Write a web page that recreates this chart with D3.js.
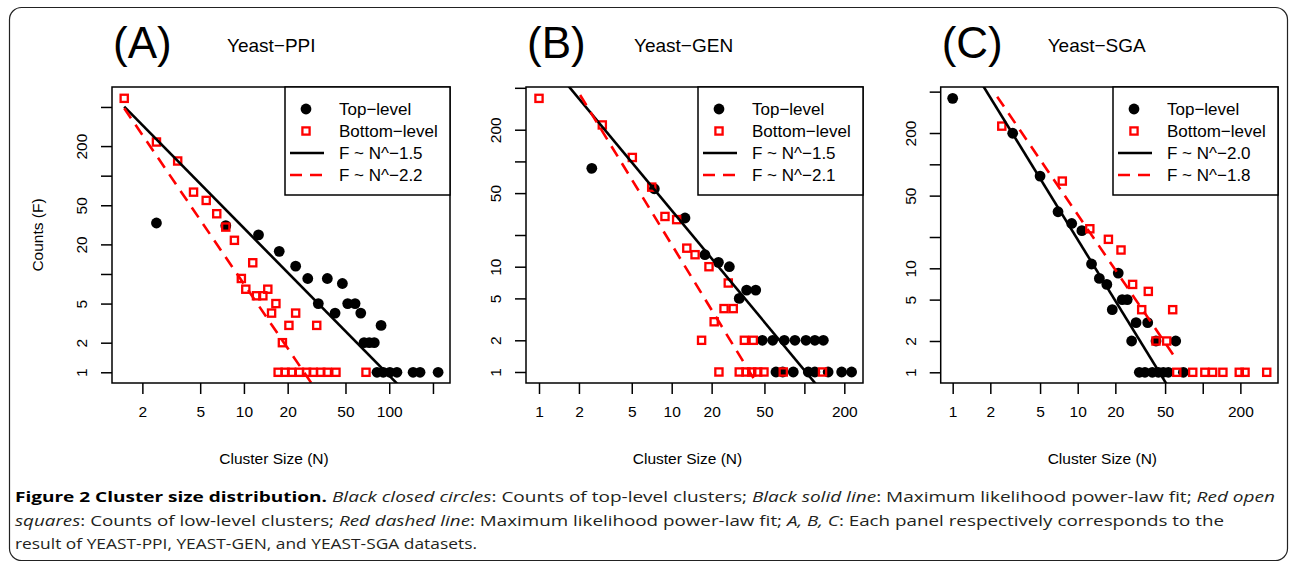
<!DOCTYPE html>
<html>
<head>
<meta charset="utf-8">
<script src="https://cdn.jsdelivr.net/npm/d3@7"></script>
<style>
  body { margin: 0; background: #fff; }
  svg { display: block; }
</style>
</head>
<body>
<div id="chart"></div>
<script>
// (A) Yeast-PPI
const ppiTopN = [2.5, 7.5, 12.6, 17.5, 22.7, 27.5, 37.5, 47.6, 32.5, 51.8, 58.2, 42.4, 63.7, 87.9, 67.1, 72.9, 78.9, 82.4, 91, 101, 113, 146, 163, 217]
const ppiTopF = [33, 31, 25, 17, 12, 9, 9, 8, 5, 5, 5, 4, 4, 3, 2, 2, 2, 1, 1, 1, 1, 1, 1, 1]
const ppiBotN = [1.5, 2.5, 3.5, 4.5, 5.5, 6.5, 7.5, 8.6, 11.5, 9.6, 10.3, 12.2, 13.5, 14.6, 16.6, 15.5, 22.7, 20.4, 31.7, 18.4, 17.2, 19.2, 21.3, 24.1, 27.0, 30.0, 33.8, 37.5, 43.0, 69.2]
const ppiBotF = [612, 220, 141, 68, 56, 41, 30, 22, 13, 9, 7, 6, 6, 7, 5, 4, 4, 3, 3, 2, 1, 1, 1, 1, 1, 1, 1, 1, 1, 1]
const ppiFitTop = [[1.5, 504], [115, 0.75]]
const ppiFitBot = [[1.5, 485], [29.6, 0.75]]

// (B) Yeast-GEN
const genTopN = [2.5, 7.4, 12.6, 17.8, 22.5, 27.2, 36.7, 43.0, 32.3, 48.2, 57.7, 70.6, 84.9, 102.8, 120, 139, 61.1, 68.7, 82.5, 107, 120, 151, 191, 227]
const genTopF = [86, 55, 29, 13, 11, 10, 6, 6, 5, 2, 2, 2, 2, 2, 2, 2, 1, 1, 1, 1, 1, 1, 1, 1]
const genBotN = [1, 3.0, 5.05, 7.07, 8.9, 10.9, 13.0, 15.0, 19.1, 26.7, 24.8, 29.1, 20.9, 16.8, 35.3, 41.2, 22.7, 32.3, 36.3, 40.1, 44.5, 49.6, 69.3, 137]
const genBotF = [397, 222, 109, 57, 30, 28, 15, 13, 10, 7, 4, 4, 3, 2, 2, 2, 1, 1, 1, 1, 1, 1, 1, 1]
const genFitTop = [[1, 1129], [124, 0.75]]
const genFitBot = [[2.04, 427], [44.5, 0.75]]

// (C) Yeast-SGA
const sgaTopN = [1, 3.02, 5.0, 6.96, 8.95, 10.8, 12.9, 14.9, 17.1, 21.1, 22.7, 24.9, 18.9, 29.3, 36.3, 27.0, 42.3, 60.8, 31.1, 34.5, 39.5, 44.2, 48.4, 53.1, 70]
const sgaTopF = [431, 199, 77, 35, 27, 23, 11, 8, 7, 9, 5, 5, 4, 3, 3, 2, 2, 2, 1, 1, 1, 1, 1, 1, 1]
const sgaBotN = [2.47, 7.53, 12.5, 17.6, 22.2, 27.5, 36.7, 32.5, 57.5, 42.3, 51.5, 62, 83.2, 104, 120, 145, 196, 218, 325]
const sgaBotF = [233, 69, 24, 19, 15, 7, 6, 4, 4, 2, 2, 1, 1, 1, 1, 1, 1, 1, 1]
const sgaFitTop = [[1, 1698], [52.1, 0.75]]
const sgaFitBot = [[2.27, 447], [58.2, 1.47]]

// axis ticks (R drops some labels when they would overlap)
const xTickValues = [1, 2, 5, 10, 20, 50, 100, 200]
const yTickValues = [1, 2, 5, 10, 20, 50, 100, 200, 500]
const ppiXLabels = [2, 5, 10, 20, 50, 100]
const genXLabels = [1, 2, 5, 10, 20, 50, 200]
const sgaXLabels = [1, 2, 5, 10, 20, 50, 200]
const ppiYLabels = [1, 2, 5, 20, 50, 200]
const genYLabels = [1, 2, 5, 10, 50, 200]
const sgaYLabels = [1, 2, 5, 10, 50, 200]

const legendLabels = ['Top−level', 'Bottom−level']
const ppiFitLabels = ['F ~ N^−1.5', 'F ~ N^−2.2']
const genFitLabels = ['F ~ N^−1.5', 'F ~ N^−2.1']
const sgaFitLabels = ['F ~ N^−2.0', 'F ~ N^−1.8']

const W = 1292
const H = 568
const font = 'Liberation Sans, Arial, sans-serif'

const zip = (a, b) => a.map((v, i) => [v, b[i]])

const panels = [
  {
    id: 'A', tag: '(A)', name: 'Yeast−PPI', left: 112, right: 450,
    xDomain: [1.236, 262], yDomain: [0.778, 798],
    top: zip(ppiTopN, ppiTopF), bot: zip(ppiBotN, ppiBotF),
    fitTop: ppiFitTop, fitBot: ppiFitBot, fitLabels: ppiFitLabels,
    xLabels: ppiXLabels, yLabels: ppiYLabels, nameDx: 115,
  },
  {
    id: 'B', tag: '(B)', name: 'Yeast−GEN', left: 526, right: 863,
    xDomain: [0.798, 276.6], yDomain: [0.786, 509],
    top: zip(genTopN, genTopF), bot: zip(genBotN, genBotF),
    fitTop: genFitTop, fitBot: genFitBot, fitLabels: genFitLabels,
    xLabels: genXLabels, yLabels: genYLabels, nameDx: 108,
  },
  {
    id: 'C', tag: '(C)', name: 'Yeast−SGA', left: 940.7, right: 1278,
    xDomain: [0.802, 400], yDomain: [0.789, 554],
    top: zip(sgaTopN, sgaTopF), bot: zip(sgaBotN, sgaBotF),
    fitTop: sgaFitTop, fitBot: sgaFitBot, fitLabels: sgaFitLabels,
    xLabels: sgaXLabels, yLabels: sgaYLabels, nameDx: 107,
  },
]
const boxTop = 87
const boxBottom = 383

const svg = d3
  .select('#chart')
  .append('svg')
  .attr('width', W)
  .attr('height', H)
  .attr('font-family', font)

// outer frame of the figure
svg
  .append('rect')
  .attr('x', 9.5)
  .attr('y', 7.5)
  .attr('width', 1278)
  .attr('height', 553)
  .attr('rx', 12)
  .attr('fill', 'none')
  .attr('stroke', '#222')
  .attr('stroke-width', 1.2)

const defs = svg.append('defs')

panels.forEach((p) => {
  const x = d3.scaleLog().domain(p.xDomain).range([p.left, p.right])
  const y = d3.scaleLog().domain(p.yDomain).range([boxBottom, boxTop])
  const g = svg.append('g')

  defs
    .append('clipPath')
    .attr('id', 'clip' + p.id)
    .append('rect')
    .attr('x', p.left)
    .attr('y', boxTop)
    .attr('width', p.right - p.left)
    .attr('height', boxBottom - boxTop)

  // titles
  g.append('text')
    .attr('x', p.left + 1)
    .attr('y', 58)
    .attr('font-size', 44)
    .text(p.tag)
  g.append('text')
    .attr('x', p.left + p.nameDx)
    .attr('y', 52)
    .attr('font-size', 19)
    .text(p.name)

  // axes, R style ticks outside the box
  const xAxis = d3
    .axisBottom(x)
    .tickValues(xTickValues.filter((v) => v >= p.xDomain[0] && v <= p.xDomain[1]))
    .tickSize(11)
    .tickPadding(12)
    .tickFormat((d) => (p.xLabels.includes(d) ? d : ''))
  const xg = g
    .append('g')
    .attr('transform', `translate(0,${boxBottom})`)
    .call(xAxis)
  xg.select('.domain').remove()
  xg.selectAll('line').attr('stroke', '#000').attr('stroke-width', 1.5)
  xg.selectAll('text')
    .attr('font-size', 15.5)
    .attr('font-family', font)
    .attr('fill', '#000')

  const yAxis = d3
    .axisLeft(y)
    .tickValues(yTickValues.filter((v) => v >= p.yDomain[0] && v <= p.yDomain[1]))
    .tickSize(11)
    .tickFormat((d) => (p.yLabels.includes(d) ? d : ''))
  const yg = g
    .append('g')
    .attr('transform', `translate(${p.left},0)`)
    .call(yAxis)
  yg.select('.domain').remove()
  yg.selectAll('line').attr('stroke', '#000').attr('stroke-width', 1.5)
  // labels read bottom-to-top, as R draws them
  yg.selectAll('text')
    .attr('font-size', 15.5)
    .attr('font-family', font)
    .attr('fill', '#000')
    .attr('text-anchor', 'middle')
    .attr('x', 0)
    .attr('y', 0)
    .attr('dy', '0.35em')
    .attr('transform', 'translate(-30,0) rotate(-90)')

  g.append('text')
    .attr('x', (p.left + p.right) / 2 - 7)
    .attr('y', 464)
    .attr('text-anchor', 'middle')
    .attr('font-size', 15.5)
    .text('Cluster Size (N)')

  if (p.id === 'A') {
    g.append('text')
      .attr('transform', `translate(43,235) rotate(-90)`)
      .attr('text-anchor', 'middle')
      .attr('font-size', 15.5)
      .text('Counts (F)')
  }

  const plot = g.append('g').attr('clip-path', `url(#clip${p.id})`)

  plot
    .append('g')
    .selectAll('circle')
    .data(p.top)
    .enter()
    .append('circle')
    .attr('cx', (d) => x(d[0]))
    .attr('cy', (d) => y(d[1]))
    .attr('r', 5.4)
    .attr('fill', '#000')

  plot
    .append('g')
    .selectAll('rect')
    .data(p.bot)
    .enter()
    .append('rect')
    .attr('x', (d) => x(d[0]) - 3.6)
    .attr('y', (d) => y(d[1]) - 3.6)
    .attr('width', 7.2)
    .attr('height', 7.2)
    .attr('fill', 'none')
    .attr('stroke', '#f00')
    .attr('stroke-width', 2.3)

  const line = d3
    .line()
    .x((d) => x(d[0]))
    .y((d) => y(d[1]))

  plot
    .append('path')
    .attr('d', line(p.fitTop))
    .attr('fill', 'none')
    .attr('stroke', '#000')
    .attr('stroke-width', 2.6)
  plot
    .append('path')
    .attr('d', line(p.fitBot))
    .attr('fill', 'none')
    .attr('stroke', '#f00')
    .attr('stroke-width', 2.6)
    .attr('stroke-dasharray', '12,8')

  // plot box
  g.append('rect')
    .attr('x', p.left)
    .attr('y', boxTop)
    .attr('width', p.right - p.left)
    .attr('height', boxBottom - boxTop)
    .attr('fill', 'none')
    .attr('stroke', '#000')
    .attr('stroke-width', 1.5)

  // legend in top-right corner
  const lw = 165
  const lh = 108
  const lg = g.append('g').attr('transform', `translate(${p.right - lw},${boxTop})`)
  lg.append('rect')
    .attr('width', lw)
    .attr('height', lh)
    .attr('fill', '#fff')
    .attr('stroke', '#000')
    .attr('stroke-width', 1.5)
  const rows = [22, 44, 66, 88]
  lg.append('circle').attr('cx', 21).attr('cy', rows[0]).attr('r', 5.4).attr('fill', '#000')
  lg.append('rect')
    .attr('x', 21 - 3.6)
    .attr('y', rows[1] - 3.6)
    .attr('width', 7.2)
    .attr('height', 7.2)
    .attr('fill', 'none')
    .attr('stroke', '#f00')
    .attr('stroke-width', 2.3)
  lg.append('line')
    .attr('x1', 5).attr('x2', 39)
    .attr('y1', rows[2]).attr('y2', rows[2])
    .attr('stroke', '#000')
    .attr('stroke-width', 2.6)
  lg.append('line')
    .attr('x1', 5).attr('x2', 39)
    .attr('y1', rows[3]).attr('y2', rows[3])
    .attr('stroke', '#f00')
    .attr('stroke-width', 2.6)
    .attr('stroke-dasharray', '12,8')
  const labels = legendLabels.concat(p.fitLabels)
  lg.selectAll('text.lab')
    .data(labels)
    .enter()
    .append('text')
    .attr('class', 'lab')
    .attr('x', 54)
    .attr('y', (d, i) => rows[i])
    .attr('dy', '0.35em')
    .attr('font-size', 17)
    .text((d) => d)
})

// caption
const captionLines = [
  [
    ['b', 'Figure 2 Cluster size distribution.'],
    ['n', ' '],
    ['i', 'Black closed circles'],
    ['n', ': Counts of top-level clusters; '],
    ['i', 'Black solid line'],
    ['n', ': Maximum likelihood power-law fit; '],
    ['i', 'Red open'],
  ],
  [
    ['i', 'squares'],
    ['n', ': Counts of low-level clusters; '],
    ['i', 'Red dashed line'],
    ['n', ': Maximum likelihood power-law fit; '],
    ['i', 'A, B, C'],
    ['n', ': Each panel respectively corresponds to the'],
  ],
  [['n', 'result of YEAST-PPI, YEAST-GEN, and YEAST-SGA datasets.']],
]
const capBase = [502, 526, 549]
const capWidths = [1260, 1209, 462]
const cap = svg
  .append('g')
  .attr('font-family', 'Open Sans, sans-serif')
  .attr('font-size', 15)
  .attr('fill', '#231f20')
captionLines.forEach((parts, li) => {
  const t = cap
    .append('text')
    .attr('x', 15)
    .attr('y', capBase[li])
    .attr('textLength', capWidths[li])
    .attr('lengthAdjust', 'spacingAndGlyphs')
  parts.forEach(([style, s]) => {
    t.append('tspan')
      .attr('font-weight', style === 'b' ? 'bold' : null)
      .attr('font-style', style === 'i' ? 'italic' : null)
      .attr('fill', style === 'b' ? '#000' : null)
      .text(s)
  })
})
</script>
</body>
</html>
